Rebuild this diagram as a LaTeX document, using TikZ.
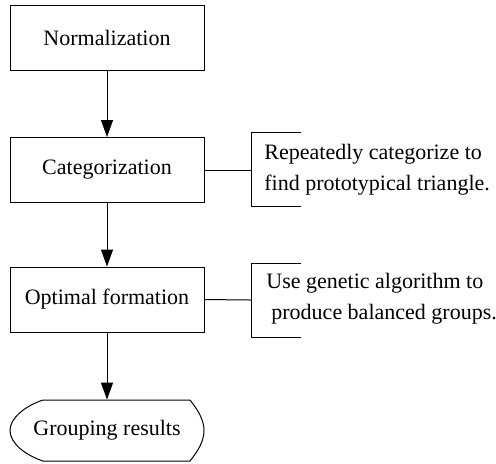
\documentclass[tikz,border=0pt]{standalone}
\usepackage{fontspec}
\setmainfont{Liberation Serif}
\usetikzlibrary{arrows.meta}
\begin{document}
\begin{tikzpicture}[x=0.5pt,y=-0.5pt,
  every node/.style={font=\fontsize{11}{15.5}\selectfont},
  line/.style={line width=0.5pt},
  proc/.style={draw,line width=0.5pt,minimum width=97pt,minimum height=32.5pt,inner sep=0pt},
  note/.style={align=left,anchor=west,inner sep=0pt},
  arr/.style={line width=0.5pt,-{Triangle[length=8.5pt,width=6pt]}}]
\useasboundingbox (0,0) rectangle (496,463);
\node[proc] (norm) at (107,37.5) {Normalization};
\node[proc] (cat) at (107,170) {Categorization};
\node[proc] (opt) at (107,299.5) {Optimal formation};
\node[minimum width=97pt,minimum height=30.5pt,inner sep=0pt] (grp) at (107,430.5) {Grouping results};
\draw[line] (43,400) -- (190,400) .. controls (198,410) and (204,420) .. (204,430.5)
  .. controls (204,441) and (198,451) .. (190,461) -- (43,461)
  .. controls (25,455) and (10,443) .. (10,430.5)
  .. controls (10,418) and (25,406) .. (43,400) -- cycle;
\draw[arr] (norm) -- (cat);
\draw[arr] (cat) -- (opt);
\draw[arr] (opt) -- (grp);
% notes
\coordinate (b1) at (251,170);
\coordinate (b2) at (251,300);
\draw[line] (cat.east) -- (b1);
\draw[line] (opt.east) -- (b2);
\draw[line] (301,132) -- (251,132) -- (251,206) -- (301,206);
\draw[line] (301,263) -- (251,263) -- (251,337) -- (301,337);
\node[note] (n1) at (264,170) {Repeatedly categorize to\\find prototypical triangle.};
\node[note] (n2) at (266,299) {Use genetic algorithm to\\\hspace{2.5pt}produce balanced groups.};
\end{tikzpicture}
\end{document}
